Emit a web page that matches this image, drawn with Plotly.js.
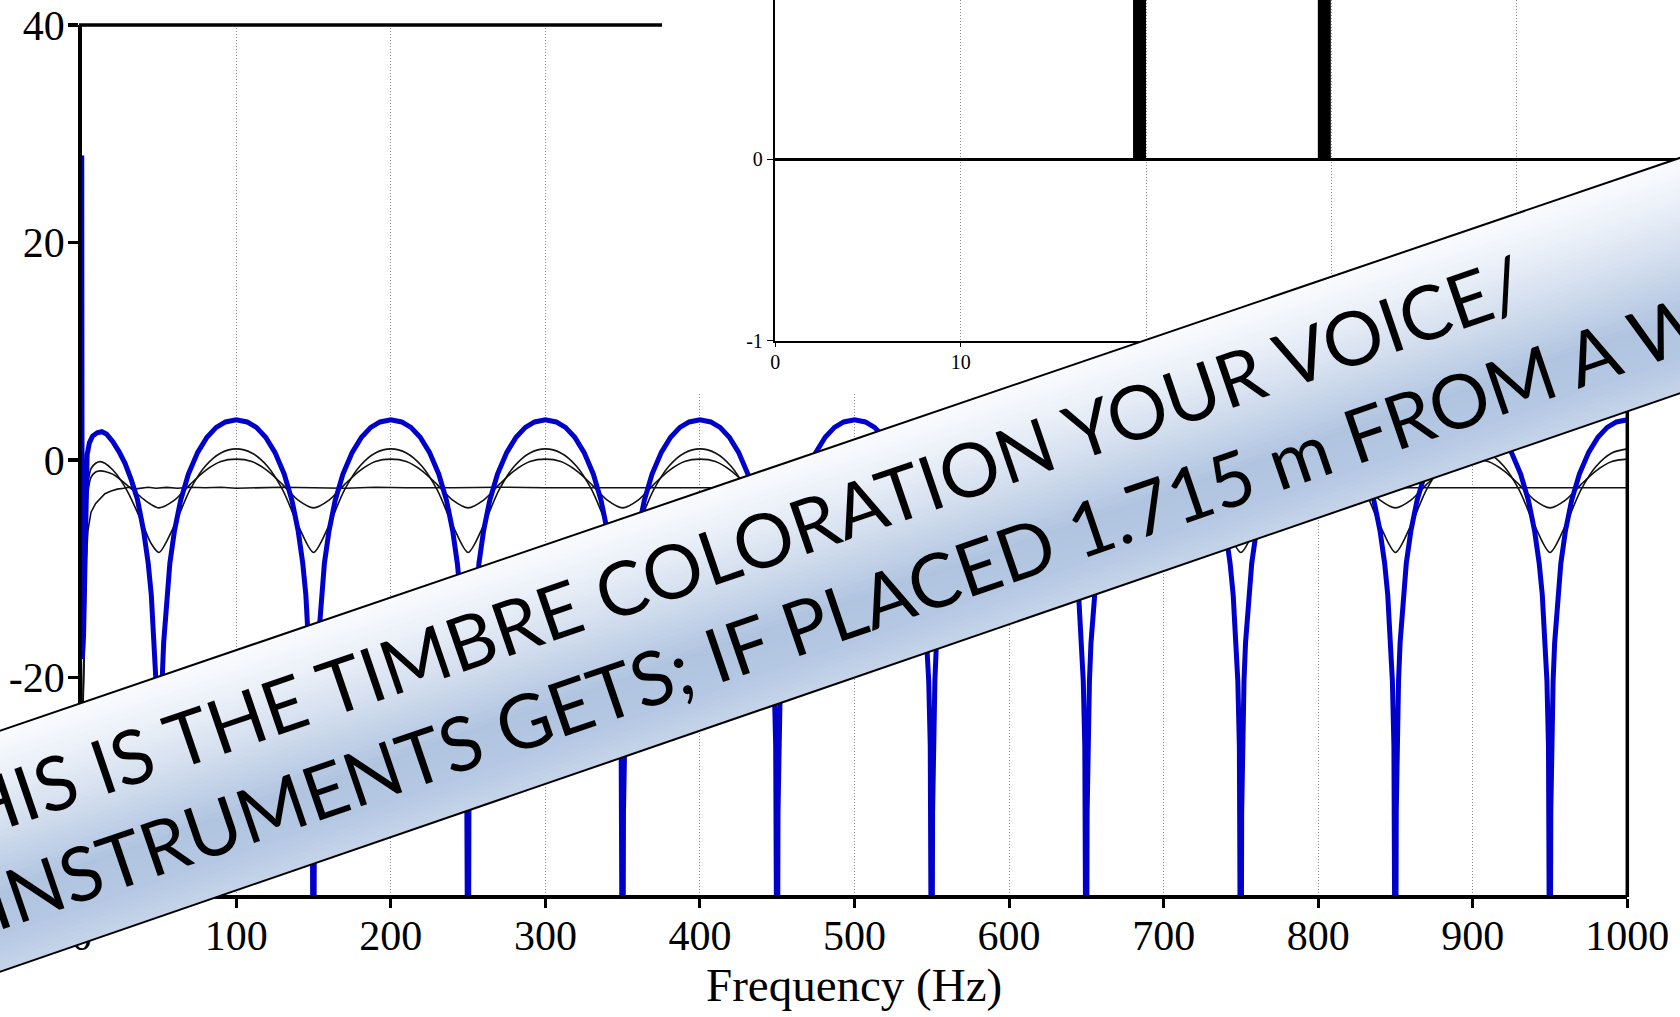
<!DOCTYPE html>
<html><head><meta charset="utf-8">
<script src="https://cdn.plot.ly/plotly-3.0.1.min.js"></script>
<style>html,body{margin:0;padding:0;background:#fff;overflow:hidden}#chart{width:1680px;height:1017px}</style>
</head><body><div id="chart"></div>
<script>
// ---------------- DATA ----------------
// Thick blue curve: comb-filter response, frequency (Hz) and level (dB)
const freqBlue = [0,0.3,1.2,2,2.8,3.5,5,7,10,13,16,20,24,28,32,36,40,43,45,47,48,49,49.5,50,
 50.5,51,52,53,55,57,60,64,69,75,81,87,93,100,107,113,119,125,131,136,140,143,145,147,148,149,149.5,150,
 150.5,151,152,153,155,157,160,164,169,175,181,187,193,200,207,213,219,225,231,236,240,243,245,247,248,249,249.5,250,
 250.5,251,252,253,255,257,260,264,269,275,281,287,293,300,307,313,319,325,331,336,340,343,345,347,348,349,349.5,350,
 350.5,351,352,353,355,357,360,364,369,375,381,387,393,400,407,413,419,425,431,436,440,443,445,447,448,449,449.5,450,
 450.5,451,452,453,455,457,460,464,469,475,481,487,493,500,507,513,519,525,531,536,540,543,545,547,548,549,549.5,550,
 550.5,551,552,553,555,557,560,564,569,575,581,587,593,600,607,613,619,625,631,636,640,643,645,647,648,649,649.5,650,
 650.5,651,652,653,655,657,660,664,669,675,681,687,693,700,707,713,719,725,731,736,740,743,745,747,748,749,749.5,750,
 750.5,751,752,753,755,757,760,764,769,775,781,787,793,800,807,813,819,825,831,836,840,843,845,847,848,849,849.5,850,
 850.5,851,852,853,855,857,860,864,869,875,881,887,893,900,907,913,919,925,931,936,940,943,945,947,948,949,949.5,950,
 950.5,951,952,953,955,957,960,964,969,975,981,987,993,1000];
const dbBlue = [28,-18.3,-16,-8,-2,0.5,1.6,2.2,2.5,2.6,2.4,1.7,0.8,-0.3,-1.8,-3.6,-6.5,-9.5,-12.4,-16.8,-20.3,-26.3,-32.4,-60,
 -32.4,-26.3,-20.3,-16.8,-12.4,-9.5,-6.5,-3.7,-1.3,0.7,2.1,3.0,3.5,3.7,3.5,3.0,2.1,0.7,-1.3,-3.7,-6.5,-9.5,-12.4,-16.8,-20.3,-26.3,-32.4,-60,
 -32.4,-26.3,-20.3,-16.8,-12.4,-9.5,-6.5,-3.7,-1.3,0.7,2.1,3.0,3.5,3.7,3.5,3.0,2.1,0.7,-1.3,-3.7,-6.5,-9.5,-12.4,-16.8,-20.3,-26.3,-32.4,-60,
 -32.4,-26.3,-20.3,-16.8,-12.4,-9.5,-6.5,-3.7,-1.3,0.7,2.1,3.0,3.5,3.7,3.5,3.0,2.1,0.7,-1.3,-3.7,-6.5,-9.5,-12.4,-16.8,-20.3,-26.3,-32.4,-60,
 -32.4,-26.3,-20.3,-16.8,-12.4,-9.5,-6.5,-3.7,-1.3,0.7,2.1,3.0,3.5,3.7,3.5,3.0,2.1,0.7,-1.3,-3.7,-6.5,-9.5,-12.4,-16.8,-20.3,-26.3,-32.4,-60,
 -32.4,-26.3,-20.3,-16.8,-12.4,-9.5,-6.5,-3.7,-1.3,0.7,2.1,3.0,3.5,3.7,3.5,3.0,2.1,0.7,-1.3,-3.7,-6.5,-9.5,-12.4,-16.8,-20.3,-26.3,-32.4,-60,
 -32.4,-26.3,-20.3,-16.8,-12.4,-9.5,-6.5,-3.7,-1.3,0.7,2.1,3.0,3.5,3.7,3.5,3.0,2.1,0.7,-1.3,-3.7,-6.5,-9.5,-12.4,-16.8,-20.3,-26.3,-32.4,-60,
 -32.4,-26.3,-20.3,-16.8,-12.4,-9.5,-6.5,-3.7,-1.3,0.7,2.1,3.0,3.5,3.7,3.5,3.0,2.1,0.7,-1.3,-3.7,-6.5,-9.5,-12.4,-16.8,-20.3,-26.3,-32.4,-60,
 -32.4,-26.3,-20.3,-16.8,-12.4,-9.5,-6.5,-3.7,-1.3,0.7,2.1,3.0,3.5,3.7,3.5,3.0,2.1,0.7,-1.3,-3.7,-6.5,-9.5,-12.4,-16.8,-20.3,-26.3,-32.4,-60,
 -32.4,-26.3,-20.3,-16.8,-12.4,-9.5,-6.5,-3.7,-1.3,0.7,2.1,3.0,3.5,3.7,3.5,3.0,2.1,0.7,-1.3,-3.7,-6.5,-9.5,-12.4,-16.8,-20.3,-26.3,-32.4,-60,
 -32.4,-26.3,-20.3,-16.8,-12.4,-9.5,-6.5,-3.7,-1.3,0.7,2.1,3.0,3.5,3.7];

// Thin black curves (two partial-reflection combs), shared frequency axis
const freqThin = [0.5,2,3,4,6,9,12,15,20,25,30,35,40,45,
 50,60,70,80,90,100,110,120,130,140,150,160,170,180,190,200,210,220,230,240,
 250,260,270,280,290,300,310,320,330,340,350,360,370,380,390,400,410,420,430,440,
 450,460,470,480,490,500,510,520,530,540,550,560,570,580,590,600,610,620,630,640,
 650,660,670,680,690,700,710,720,730,740,750,760,770,780,790,800,810,820,830,840,
 850,860,870,880,890,900,910,920,930,940,950,960,970,980,990,1000];
const dbThinA = [-25,-12,-5,-2.2,-0.8,-0.3,-0.15,-0.3,-0.9,-1.8,-3.0,-4.5,-6.1,-7.7,
 -8.5,-6.0,-2.75,-0.55,0.65,1.02,0.65,-0.55,-2.75,-6.0,-8.5,-6.0,-2.75,-0.55,0.65,1.02,0.65,-0.55,-2.75,-6.0,
 -8.5,-6.0,-2.75,-0.55,0.65,1.02,0.65,-0.55,-2.75,-6.0,-8.5,-6.0,-2.75,-0.55,0.65,1.02,0.65,-0.55,-2.75,-6.0,
 -8.5,-6.0,-2.75,-0.55,0.65,1.02,0.65,-0.55,-2.75,-6.0,-8.5,-6.0,-2.75,-0.55,0.65,1.02,0.65,-0.55,-2.75,-6.0,
 -8.5,-6.0,-2.75,-0.55,0.65,1.02,0.65,-0.55,-2.75,-6.0,-8.5,-6.0,-2.75,-0.55,0.65,1.02,0.65,-0.55,-2.75,-6.0,
 -8.5,-6.0,-2.75,-0.55,0.65,1.02,0.65,-0.55,-2.75,-6.0,-8.5,-6.0,-2.75,-0.55,0.65,1.02];
const dbThinB = [-25,-13,-6,-3,-1.6,-1.1,-1.0,-1.05,-1.3,-1.8,-2.4,-3.0,-3.6,-4.1,
 -4.4,-3.69,-2.26,-0.97,-0.14,0.08,-0.14,-0.97,-2.26,-3.69,-4.4,-3.69,-2.26,-0.97,-0.14,0.08,-0.14,-0.97,-2.26,-3.69,
 -4.4,-3.69,-2.26,-0.97,-0.14,0.08,-0.14,-0.97,-2.26,-3.69,-4.4,-3.69,-2.26,-0.97,-0.14,0.08,-0.14,-0.97,-2.26,-3.69,
 -4.4,-3.69,-2.26,-0.97,-0.14,0.08,-0.14,-0.97,-2.26,-3.69,-4.4,-3.69,-2.26,-0.97,-0.14,0.08,-0.14,-0.97,-2.26,-3.69,
 -4.4,-3.69,-2.26,-0.97,-0.14,0.08,-0.14,-0.97,-2.26,-3.69,-4.4,-3.69,-2.26,-0.97,-0.14,0.08,-0.14,-0.97,-2.26,-3.69,
 -4.4,-3.69,-2.26,-0.97,-0.14,0.08,-0.14,-0.97,-2.26,-3.69,-4.4,-3.69,-2.26,-0.97,-0.14,0.08];

// Thin flat curve (no reflection)
const freqFlat = [0.5,2,3,4,6,9,12,15,19,23,27,31,35,39,43,48,55,62,70,80,
 90,100,115,130,150,170,190,210,240,270,300,350,400,450,500,600,700,800,900,1000];
const dbFlat = [-25,-14,-9,-6.5,-4.8,-4.0,-3.5,-3.1,-2.85,-2.68,-2.6,-2.5,-2.65,-2.55,-2.5,-2.6,-2.52,-2.6,-2.5,-2.55,
 -2.5,-2.6,-2.55,-2.5,-2.55,-2.6,-2.5,-2.55,-2.55,-2.5,-2.55,-2.55,-2.55,-2.55,-2.55,-2.55,-2.55,-2.55,-2.55,-2.55];

// Inset: impulse response (time in ms, amplitude)
const delayMs = [19.65, 29.62];
const impulseAmp = [1, 1];

// Tick labels
const mainXTicks = [0,100,200,300,400,500,600,700,800,900,1000];
const mainYTicks = [-40,-20,0,20,40];
const mainYTickText = ['-40','-20','0','20','40'];
const insetXTicks = [0,10,20,30,40];
const insetYTicks = [-1,0];
const insetYTickText = ['-1','0'];

const xTitle = 'Frequency (Hz)';
const bannerLine1 = 'THIS IS THE TIMBRE COLORATION YOUR VOICE/';
const bannerLine2 = 'INSTRUMENTS GETS; IF PLACED 1.715 m FROM A WALL';

// ---------------- LAYOUT HELPERS (pixel -> paper) ----------------
const W = 1680, H = 1017;
const px = x => x / W;
const py = y => 1 - y / H;

const serif = 'Liberation Serif, Times New Roman, serif';
const gridDash = '1px,2px';

// banner geometry (pixels)
const topY = x => 730.7 - 0.341 * x;
const botY = x => 971.7 - 0.3443 * x;
const xL = -40, xR = 1720;
const gradStops = [[0,[250,251,254]],[0.2,[233,239,248]],[0.45,[205,218,236]],[0.68,[176,196,224]],[0.85,[181,200,227]],[1,[198,212,233]]];
function gradColor(t){
  for (let i=1;i<gradStops.length;i++){
    if (t <= gradStops[i][0]) {
      const a = gradStops[i-1], b = gradStops[i];
      const f = (t - a[0]) / (b[0] - a[0]);
      const c = a[1].map((v,k)=>Math.round(v + f*(b[1][k]-v)));
      return `rgb(${c[0]},${c[1]},${c[2]})`;
    }
  }
  const c = gradStops[gradStops.length-1][1];
  return `rgb(${c[0]},${c[1]},${c[2]})`;
}
const shapes = [];
// white box hiding the main grid behind the inset
shapes.push({type:'rect', xref:'x', yref:'y', x0:375.4, x1:1000, y0:6.07, y1:40,
  fillcolor:'white', line:{width:0}, layer:'between'});
// top frame line (stops at inset) and right frame line
shapes.push({type:'line', xref:'paper', yref:'paper', x0:px(79), x1:px(662), y0:py(25), y1:py(25),
  line:{color:'black', width:3.5}, layer:'above'});
shapes.push({type:'line', xref:'paper', yref:'paper', x0:px(1627.3), x1:px(1627.3), y0:py(897), y1:py(394),
  line:{color:'black', width:3.5}, layer:'above'});
// banner (stepped gradient stripes)
const NS = 48;
for (let i=0;i<NS;i++){
  const t0 = i/NS, t1 = Math.min(1, (i+1.7)/NS);
  const yl0 = topY(xL) + t0*(botY(xL)-topY(xL)), yl1 = topY(xL) + t1*(botY(xL)-topY(xL));
  const yr0 = topY(xR) + t0*(botY(xR)-topY(xR)), yr1 = topY(xR) + t1*(botY(xR)-topY(xR));
  shapes.push({type:'path', xref:'paper', yref:'paper', layer:'above',
    path:`M ${px(xL)},${py(yl0)} L ${px(xR)},${py(yr0)} L ${px(xR)},${py(yr1)} L ${px(xL)},${py(yl1)} Z`,
    fillcolor: gradColor((i+0.5)/NS), line:{width:0}});
}
shapes.push({type:'line', xref:'paper', yref:'paper', x0:px(xL), y0:py(topY(xL)), x1:px(xR), y1:py(topY(xR)),
  line:{color:'black', width:2}, layer:'above'});
shapes.push({type:'line', xref:'paper', yref:'paper', x0:px(xL), y0:py(botY(xL)), x1:px(xR), y1:py(botY(xR)),
  line:{color:'black', width:2}, layer:'above'});

const bannerAngle = -18.93;
const bannerFont = {family:'Lato, Open Sans, sans-serif', size:75, color:'black'};

const traces = [
  {x:freqFlat, y:dbFlat, mode:'lines', line:{color:'#111', width:1.6}, hoverinfo:'skip'},
  {x:freqThin, y:dbThinB, mode:'lines', line:{color:'#111', width:1.6, shape:'spline', smoothing:0.8}, hoverinfo:'skip'},
  {x:freqThin, y:dbThinA, mode:'lines', line:{color:'#111', width:1.6, shape:'spline', smoothing:0.8}, hoverinfo:'skip'},
  {x:freqBlue, y:dbBlue, mode:'lines', line:{color:'#0000cd', width:5}, hoverinfo:'skip'},
  {type:'bar', x:delayMs, y:impulseAmp, width:0.7, marker:{color:'black', line:{width:0}}, xaxis:'x2', yaxis:'y2', hoverinfo:'skip'}
];

const layout = {
  width:W, height:H, margin:{l:0,r:0,t:0,b:0},
  paper_bgcolor:'white', plot_bgcolor:'white', showlegend:false,
  xaxis:{domain:[0.04866,0.96863], range:[0,1000], tickmode:'array', tickvals:mainXTicks, ticktext:mainXTicks.map(String),
    ticks:'outside', ticklen:9, tickwidth:3, tickcolor:'black', showline:true, linewidth:4, linecolor:'black',
    showgrid:true, gridcolor:'#8c8c8c', gridwidth:1, griddash:gridDash, zeroline:false,
    tickfont:{family:serif, size:42, color:'black'}, ticklabelstandoff:-8, fixedrange:true},
  yaxis:{domain:[0.11996,0.97542], range:[-40,40], tickmode:'array', tickvals:mainYTicks, ticktext:mainYTickText,
    ticks:'outside', ticklen:10, tickwidth:3.5, tickcolor:'black', showline:true, linewidth:3.5, linecolor:'black',
    showgrid:false, zeroline:false, tickfont:{family:serif, size:42, color:'black'}, ticklabelstandoff:-5, fixedrange:true},
  xaxis2:{domain:[0.4615,1], anchor:'y2', range:[0,48.81], tickmode:'array', tickvals:insetXTicks, ticktext:insetXTicks.map(String),
    ticks:'outside', ticklen:4, tickwidth:1.5, tickcolor:'black', showline:true, linewidth:2, linecolor:'black',
    showgrid:true, gridcolor:'#8c8c8c', gridwidth:1, griddash:gridDash, zeroline:false,
    tickfont:{family:serif, size:20, color:'black'}, ticklabelstandoff:-2, fixedrange:true},
  yaxis2:{domain:[0.665,1], anchor:'x2', range:[-1,0.878], tickmode:'array', tickvals:insetYTicks, ticktext:insetYTickText,
    ticks:'outside', ticklen:6, tickwidth:1.5, tickcolor:'black', showline:true, linewidth:2.5, linecolor:'black',
    showgrid:false, zeroline:true, zerolinecolor:'black', zerolinewidth:3,
    tickfont:{family:serif, size:20, color:'black'}, ticklabelstandoff:0, fixedrange:true},
  shapes: shapes,
  annotations:[
    {text:xTitle, xref:'paper', yref:'paper', x:px(854), y:py(985), xanchor:'center', yanchor:'middle', showarrow:false,
      font:{family:serif, size:47, color:'black'}},
    {text:bannerLine1, xref:'paper', yref:'paper', x:px(720.3), y:py(552.6), xanchor:'center', yanchor:'middle', showarrow:false,
      textangle:bannerAngle, font:bannerFont},
    {text:bannerLine2, xref:'paper', yref:'paper', x:px(905.3), y:py(589.2), xanchor:'center', yanchor:'middle', showarrow:false,
      textangle:bannerAngle, font:bannerFont}
  ]
};

Plotly.newPlot('chart', traces, layout, {displayModeBar:false, staticPlot:true});
</script></body></html>
